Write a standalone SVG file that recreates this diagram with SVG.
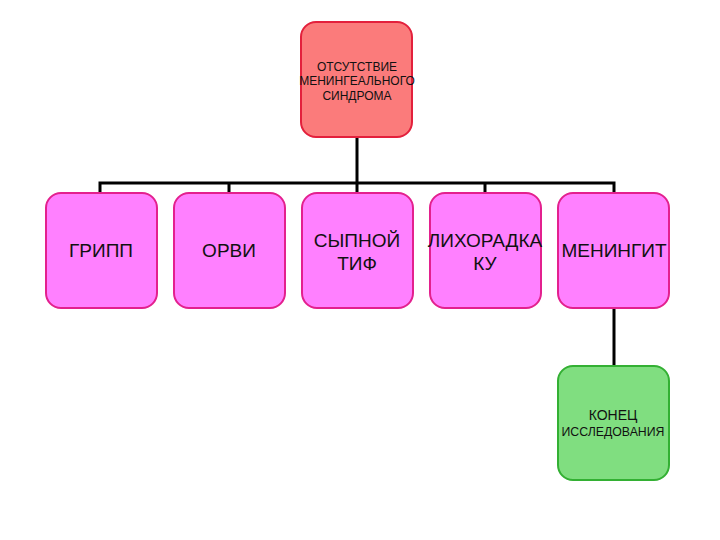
<svg xmlns="http://www.w3.org/2000/svg" width="720" height="540" viewBox="0 0 720 540">
<style>
.box{stroke-width:2}
.red{fill:#fb7b7b;stroke:#e3203c}
.pink{fill:#ff80ff;stroke:#e3208e}
.green{fill:#80de80;stroke:#33b033}
.t{font-family:"Liberation Sans",Arial,sans-serif;fill:#111;text-anchor:middle}
.big{font-size:19px}
.sm{font-size:12px}
.conn{stroke:#000;stroke-width:3;fill:none}
</style>
<rect width="720" height="540" fill="#fff"/>
<g id="connectors">
<path class="conn" d="M357,137V183M100,193V183H614V193M229,183V193M357,183V193M485,183V193M614,308V366"/>
</g>
<g id="n-top">
<rect class="box red" x="301" y="22" width="111" height="115" rx="15"/>
<text class="t sm" x="357" y="71">ОТСУТСТВИЕ</text>
<text class="t sm" x="357" y="85">МЕНИНГЕАЛЬНОГО</text>
<text class="t sm" x="357" y="100">СИНДРОМА</text>
</g>
<g id="n-gripp">
<rect class="box pink" x="46" y="193" width="111" height="115" rx="15"/>
<text class="t big" x="101" y="257">ГРИПП</text>
</g>
<g id="n-orvi">
<rect class="box pink" x="174" y="193" width="111" height="115" rx="15"/>
<text class="t big" x="229" y="257">ОРВИ</text>
</g>
<g id="n-tif">
<rect class="box pink" x="302" y="193" width="111" height="115" rx="15"/>
<text class="t big" x="357" y="247">СЫПНОЙ</text>
<text class="t big" x="357" y="270">ТИФ</text>
</g>
<g id="n-ku">
<rect class="box pink" x="430" y="193" width="111" height="115" rx="15"/>
<text class="t big" x="485" y="247">ЛИХОРАДКА</text>
<text class="t big" x="485" y="270">КУ</text>
</g>
<g id="n-meningit">
<rect class="box pink" x="558" y="193" width="111" height="115" rx="15"/>
<text class="t big" x="614" y="257">МЕНИНГИТ</text>
</g>
<g id="n-end">
<rect class="box green" x="558" y="366" width="111" height="114" rx="15"/>
<text class="t" font-size="14" x="613" y="420">КОНЕЦ</text>
<text class="t" font-size="12.3" x="613" y="436">ИССЛЕДОВАНИЯ</text>
</g>
</svg>
